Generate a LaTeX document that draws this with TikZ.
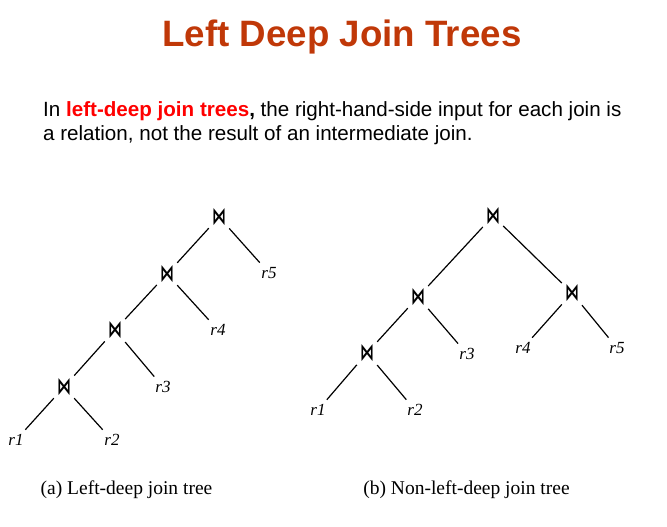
\documentclass[tikz,border=0pt]{standalone}
\usepackage{fontspec}
\setmainfont{Liberation Serif}
\setsansfont{Liberation Sans}
\newfontfamily\djv{DejaVu Sans}
\definecolor{titlered}{RGB}{192,56,8}
\definecolor{keyred}{RGB}{255,0,0}
\newcommand{\jn}{\resizebox{14pt}{16pt}{\djv\bfseries ⋈}}
\tikzset{
  jnode/.style={inner sep=0pt, minimum width=20pt, minimum height=24pt},
  rel/.style={inner sep=4.5pt, font=\fontsize{17}{17}\selectfont\itshape},
  edge/.style={draw, line width=1.2pt},
  capt/.style={font=\fontsize{19.5}{19.5}\selectfont, anchor=base},
}
\begin{document}
\begin{tikzpicture}[x=1pt,y=-1pt]
\useasboundingbox (0,0) rectangle (667,527);
% title
\node[anchor=base, inner sep=0pt, text=titlered, font=\sffamily\bfseries\fontsize{36.7}{37}\selectfont] (title) at (342,47) {Left Deep Join Trees};
% paragraph
\node[anchor=base west, inner sep=0pt, font=\sffamily\fontsize{20.6}{20.6}\selectfont] (p1) at (43,116) {In \textcolor{keyred}{\bfseries left-deep join trees}\textbf{,} the right-hand-side input for each join is};
\node[anchor=base west, inner sep=0pt, font=\sffamily\fontsize{20.6}{20.6}\selectfont] (p2) at (43,140) {a relation, not the result of an intermediate join.};
% tree (a)
\node[jnode] (a1) at (219,217) {\jn};
\node[jnode] (a2) at (167,274) {\jn};
\node[jnode] (a3) at (115,330) {\jn};
\node[jnode] (a4) at (64,387) {\jn};
\node[rel] (ar5) at (269,273) {r5};
\node[rel] (ar4) at (218,330) {r4};
\node[rel] (ar3) at (163,387) {r3};
\node[rel] (ar1) at (16,440) {r1};
\node[rel] (ar2) at (112,440) {r2};
\path[edge] (a1) -- (a2);
\path[edge] (a1) -- (ar5);
\path[edge] (a2) -- (a3);
\path[edge] (a2) -- (ar4);
\path[edge] (a3) -- (a4);
\path[edge] (a3) -- (ar3);
\path[edge] (a4) -- (ar1);
\path[edge] (a4) -- (ar2);
% tree (b)
\node[jnode] (b1) at (493,216) {\jn};
\node[jnode] (b2) at (418,297) {\jn};
\node[jnode] (b3) at (572,293) {\jn};
\node[jnode] (b4) at (367,353) {\jn};
\node[rel] (br3) at (467,354) {r3};
\node[rel] (br4) at (523,348) {r4};
\node[rel] (br5) at (617,348) {r5};
\node[rel] (br1) at (318,410) {r1};
\node[rel] (br2) at (415,410) {r2};
\path[edge] (b1) -- (b2);
\path[edge] (b1) -- (b3);
\path[edge] (b2) -- (b4);
\path[edge] (b2) -- (br3);
\path[edge] (b3) -- (br4);
\path[edge] (b3) -- (br5);
\path[edge] (b4) -- (br1);
\path[edge] (b4) -- (br2);
% captions
\node[capt] (ca) at (126.5,494) {(a) Left-deep join tree};
\node[capt] (cb) at (466.5,494) {(b) Non-left-deep join tree};
\end{tikzpicture}
\end{document}
